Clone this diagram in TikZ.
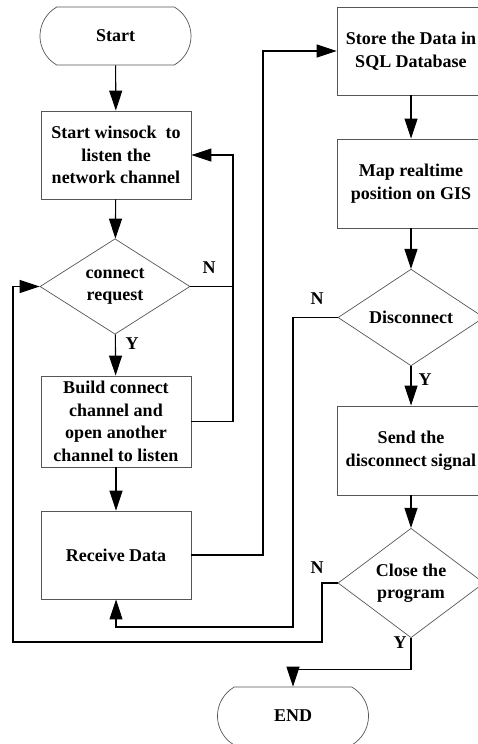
\documentclass[tikz,border=0pt]{standalone}
\usepackage{fontspec}
\setmainfont{Liberation Serif}
\usetikzlibrary{shapes.geometric,shapes.misc,arrows.meta}
\definecolor{boxgray}{RGB}{85,85,85}

\begin{document}
\begin{tikzpicture}[x=1pt,y=-1pt,
  every node/.style={font=\fontsize{18}{22.5}\selectfont\bfseries},
  proc/.style={draw=boxgray, line width=0.9pt, rectangle, minimum width=150pt,
    minimum height=88pt, inner sep=0pt, align=center},
  dec/.style={draw=boxgray, line width=0.7pt, diamond, minimum width=150pt,
    minimum height=91pt, inner sep=0pt, align=center},
  term/.style={draw=boxgray, line width=0.7pt, rounded rectangle,
    rounded rectangle arc length=120, minimum width=151pt, minimum height=58pt,
    inner sep=0pt, align=center},
  flow/.style={line width=1.1pt, -{Triangle[length=20pt,width=13pt]}},
  link/.style={line width=1.1pt},
  yn/.style={inner sep=0pt}]

\useasboundingbox (0,0) rectangle (478,744);
\clip (0,0) rectangle (478,744);

% left column
\node[term] (start) at (115.5,36) {Start};
\node[proc] (listen) at (116,155) {Start winsock~ to\\listen the\\network channel};
\node[dec] (req) at (115,286.5) {connect\\request};
\node[proc, minimum height=91pt] (build) at (116,421.5)
  {Build connect\\channel and\\open another\\channel to listen};
\node[proc] (recv) at (116,555) {Receive Data};

% right column
\node[proc, minimum width=148pt] (store) at (411,51) {Store the Data in\\SQL Database};
\node[proc, minimum width=148pt, minimum height=89pt] (map) at (411,183.5)
  {Map realtime\\position on GIS};
\node[dec, minimum width=146pt, minimum height=89pt] (disc) at (411,317.5) {Disconnect};
\node[proc, minimum width=148pt, minimum height=89pt] (send) at (411,450.5)
  {Send the\\disconnect signal};
\node[dec, minimum width=146pt, minimum height=88pt] (close) at (411,583)
  {Close the\\program};
\node[term] (end) at (293,716) {END};

% branch labels
\node[yn] (n1) at (209,268) {N};
\node[yn] (y1) at (132,344) {Y};
\node[yn] (n2) at (317,299) {N};
\node[yn] (y2) at (425,380) {Y};
\node[yn] (n3) at (317,568) {N};
\node[yn] (y3) at (400,643) {Y};

% routing columns
\coordinate (rx) at (233,0);
\coordinate (sx) at (263,0);
\coordinate (dx) at (293,627);
\coordinate (cx) at (322,642);
\coordinate (lx) at (13,642);

% main flow
\draw[flow] (start) -- (listen);
\draw[flow] (listen) -- (req);
\draw[flow] (req) -- (build);
\draw[flow] (build) -- (recv);
\draw[flow] (store) -- (map);
\draw[flow] (map) -- (disc);
\draw[flow] (disc) -- (send);
\draw[flow] (send) -- (close);
\draw[flow] (close.south) -- ++(0,31) -| (end.north);

% loops back
\draw[flow] (req.east) -- (req.east -| rx) |- (listen.east);
\draw[link] (build.east) -| (req.east -| rx);
\draw[flow] (recv.east) -- (recv.east -| sx) |- (store.west);
\draw[flow] (disc.west) -| (dx) -| (recv.south);
\draw[flow] (close.west) -| (cx) -- (lx) |- (req.west);
\end{tikzpicture}
\end{document}
